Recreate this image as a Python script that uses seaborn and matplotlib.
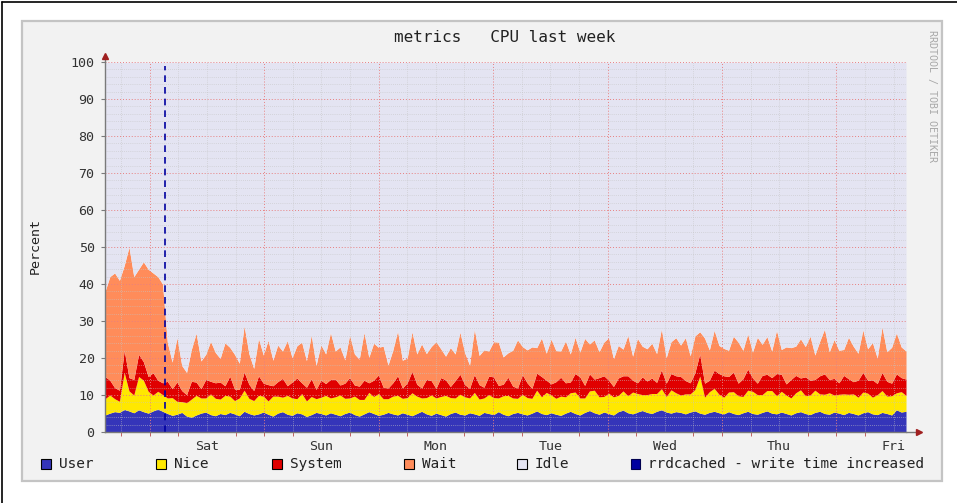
import numpy as np
import pandas as pd
import matplotlib
matplotlib.use('Agg')
import matplotlib.pyplot as plt
import seaborn as sns
from matplotlib.patches import Rectangle
from matplotlib.lines import Line2D

# time axis in hours relative to Sat 00:00
t_start = -9.4
t_end = 158.6
day_labels = ['Sat', 'Sun', 'Mon', 'Tue', 'Wed', 'Thu', 'Fri']
rule_hour = 3.2

user = [
    4.6, 5.1, 5.5, 5.3, 6.1, 5.7, 5.2, 6.0, 5.5, 5.1, 5.7, 6.2,
    5.6, 5.0, 4.5, 4.8, 5.3, 4.3, 4.0, 4.6, 5.1, 5.4, 4.7, 4.4,
    5.0, 4.7, 5.3, 4.9, 4.4, 5.6, 5.0, 4.6, 4.9, 5.4, 4.8, 4.3,
    5.1, 5.5, 4.8, 4.5, 5.2, 4.9, 4.2, 4.7, 5.3, 5.0, 4.6, 5.2,
    4.8, 4.4, 5.0, 5.4, 4.7, 4.3, 4.9, 5.5, 5.0, 4.5, 4.8, 5.3,
    4.9, 4.6, 5.2, 4.8, 4.4, 5.0, 5.6, 4.9, 4.5, 5.1, 4.7, 4.3,
    5.0, 5.4, 4.8, 4.6, 5.2, 4.9, 4.5, 5.3, 5.0, 4.7, 5.5, 4.8,
    4.4, 5.0, 5.3, 4.9, 4.6, 5.1, 5.7, 5.0, 4.7, 5.2, 4.8, 4.5,
    5.1, 5.6, 5.0, 4.6, 5.3, 5.8, 5.2, 4.8, 5.4, 5.0, 4.6, 5.5,
    5.9, 5.2, 4.9, 5.4, 5.8, 5.3, 5.0, 5.6, 6.0, 5.4, 5.1, 5.5,
    5.3, 4.9, 5.4, 5.7, 5.1, 4.8, 5.3, 5.6, 5.2, 4.9, 5.5, 5.0,
    4.7, 5.2, 5.6, 5.0, 4.8, 5.3, 5.7, 5.1, 4.9, 5.4, 5.0, 4.6,
    5.2, 5.5, 5.0, 4.7, 5.3, 5.6, 5.0, 4.8, 5.4, 5.1, 4.7, 5.3,
    5.0, 4.6, 5.2, 5.5, 4.9, 4.7, 5.3, 5.0, 4.6, 6.0, 5.4, 5.6,
]
nice = [
    4.4, 4.9, 3.5, 3.0, 10.0, 5.4, 4.8, 9.0, 8.5, 5.9, 4.3, 4.8,
    4.5, 4.2, 4.8, 3.5, 2.9, 3.6, 4.9, 5.3, 4.1, 3.8, 5.6, 4.7,
    3.9, 5.2, 4.4, 3.6, 4.8, 5.7, 4.1, 3.9, 5.0, 4.3, 3.6, 5.4,
    4.6, 3.9, 5.1, 4.7, 3.8, 5.5, 4.2, 4.9, 3.7, 4.4, 5.3, 4.0,
    4.7, 5.6, 4.1, 3.8, 5.0, 4.5, 3.9, 5.2, 4.6, 5.9, 4.2, 3.7,
    4.8, 5.3, 3.9, 4.5, 6.2, 4.7, 3.6, 4.4, 5.5, 4.1, 4.9, 5.6,
    4.3, 3.8, 5.4, 4.9, 4.0, 5.8, 4.4, 3.9, 5.1, 4.6, 3.7, 5.0,
    5.5, 4.2, 3.8, 5.3, 4.7, 4.0, 5.6, 4.5, 6.0, 4.8, 4.3, 5.2,
    4.4, 5.0, 5.8, 4.6, 3.9, 5.3, 6.1, 4.7, 4.2, 5.5, 4.9, 4.4,
    5.2, 4.6, 5.9, 5.0, 4.3, 4.8, 5.4, 4.8, 5.7, 4.2, 6.3, 5.1,
    4.7, 5.4, 4.9, 5.8, 10.0, 4.6, 5.6, 6.2, 5.0, 4.5, 5.3, 5.9,
    5.1, 4.4, 5.7, 6.0, 5.3, 4.8, 5.5, 6.1, 4.9, 5.6, 5.0, 4.6,
    5.4, 5.9, 4.8, 5.3, 6.0, 4.7, 5.2, 5.8, 4.6, 5.1, 5.6, 4.9,
    5.3, 4.8, 5.6, 5.0, 4.5, 5.4, 5.9, 4.7, 5.2, 4.6, 5.5, 4.3,
]
system = [
    6.0, 4.0, 3.0, 3.0, 6.0, 3.6, 4.2, 6.0, 5.0, 4.0, 6.0, 3.0,
    3.2, 4.5, 2.4, 5.2, 3.0, 2.2, 4.8, 3.6, 2.5, 5.0, 3.4, 4.2,
    4.6, 2.6, 5.4, 3.1, 2.3, 4.9, 3.8, 2.7, 5.3, 3.5, 4.4, 2.8,
    3.9, 5.1, 2.6, 4.3, 5.6, 2.9, 3.7, 4.8, 2.5, 4.6, 3.2, 5.0,
    4.8, 2.7, 4.1, 5.5, 3.0, 3.6, 5.2, 2.6, 4.4, 5.0, 3.1, 2.9,
    3.6, 5.3, 2.8, 4.0, 5.8, 3.2, 2.7, 4.9, 3.9, 2.6, 5.1, 4.2,
    3.0, 4.7, 5.4, 3.3, 2.6, 4.8, 3.9, 2.9, 5.0, 5.6, 3.4, 3.1,
    4.9, 3.2, 2.8, 5.3, 4.0, 2.7, 4.6, 5.5, 3.3, 3.0, 4.5, 5.1,
    3.8, 2.9, 5.0, 5.7, 3.4, 4.6, 3.0, 5.2, 5.6, 3.5, 2.8, 4.7,
    4.1, 5.4, 3.2, 2.9, 4.8, 3.7, 4.2, 3.0, 5.1, 3.6, 4.4, 4.6,
    5.0, 3.6, 3.0, 4.6, 6.0, 3.8, 3.1, 4.9, 5.6, 5.8, 4.2, 5.3,
    3.4, 4.8, 5.7, 3.6, 3.1, 5.2, 4.4, 3.5, 6.0, 4.6, 3.0, 5.0,
    4.7, 3.2, 5.1, 4.0, 2.9, 4.9, 5.5, 3.6, 4.5, 3.1, 5.0, 4.2,
    3.3, 4.6, 5.3, 3.5, 4.7, 3.0, 4.9, 4.0, 3.4, 5.1, 3.8, 4.4,
]
wait = [
    23.0, 28.0, 31.0, 29.7, 22.9, 35.3, 27.8, 23.0, 27.0, 29.0, 27.0, 28.0,
    26.7, 10.5, 7.2, 12.0, 6.8, 6.0, 8.6, 13.2, 7.5, 6.8, 10.8, 8.2,
    6.4, 11.6, 7.8, 9.4, 7.1, 12.5, 8.3, 6.0, 10.1, 7.6, 12.0, 6.9,
    9.9, 7.4, 12.2, 6.6, 8.7, 11.0, 7.2, 11.8, 6.5, 9.6, 8.0, 12.7,
    7.6, 10.3, 6.3, 11.5, 8.4, 7.3, 12.9, 6.9, 10.0, 7.5, 11.1, 6.2,
    8.8, 12.1, 7.5, 6.7, 10.7, 8.2, 11.9, 7.0, 9.2, 12.6, 7.8, 6.4,
    10.5, 7.2, 11.4, 8.6, 6.3, 12.3, 7.9, 10.1, 6.8, 9.5, 11.7, 7.4,
    6.6, 9.7, 13.0, 7.6, 8.9, 11.2, 6.9, 10.4, 7.3, 12.1, 8.4, 7.1,
    11.3, 7.6, 9.8, 6.7, 12.7, 8.1, 10.6, 7.0, 9.1, 11.5, 7.5, 8.8,
    7.2, 10.9, 6.5, 12.0, 8.3, 8.7, 9.4, 7.8, 11.1, 6.9, 8.6, 10.3,
    8.5, 11.6, 7.3, 9.9, 6.0, 12.2, 8.2, 10.8, 7.6, 7.4, 7.1, 9.7,
    11.1, 7.7, 9.5, 7.0, 12.4, 8.4, 10.2, 7.2, 11.7, 6.7, 10.0, 8.6,
    7.9, 10.6, 8.2, 11.9, 6.6, 9.3, 12.1, 7.5, 10.5, 8.8, 7.0, 11.2,
    9.6, 7.3, 11.5, 8.5, 10.1, 6.9, 12.3, 8.0, 9.7, 11.1, 8.3, 7.6,
]

series_names = ['User', 'Nice', 'System', 'Wait', 'Idle']
series_colors = ['#3535B9', '#FFE800', '#E00000', '#FF8C5A', '#E4E4F2']
rule_label = 'rrdcached - write time increased'
rule_color = '#0000A0'

df = pd.DataFrame({'User': user, 'Nice': nice, 'System': system, 'Wait': wait})
df['Idle'] = 100 - df.sum(axis=1)
df['hour'] = np.linspace(t_start, t_end, len(df))

sns.set_theme(style='white')
plt.rcParams['font.family'] = ['DejaVu Sans Mono', 'DejaVu Sans']

W, H = 957, 503
fig = plt.figure(figsize=(W / 100, H / 100), dpi=100)
fig.patch.set_facecolor('white')

# outer frame lines and grey canvas
fig.add_artist(Line2D([2 / W, 1], [1 - 2 / H, 1 - 2 / H], color='black', lw=1.2))
fig.add_artist(Line2D([2 / W, 2 / W], [0, 1 - 2 / H], color='black', lw=1.2))
fig.add_artist(Rectangle((22 / W, 22 / H), 920 / W, 460 / H, transform=fig.transFigure,
                         facecolor='#F2F2F2', edgecolor='#C4C4C4', lw=1.6, zorder=0))

ax = fig.add_axes([105 / W, 71 / H, 801 / W, 370 / H])
ax.set_facecolor('white')
ax.stackplot(df['hour'], [df[c] for c in series_names], colors=series_colors,
             linewidth=0, zorder=1)

ax.set_xlim(t_start, t_end)
ax.set_ylim(0, 100)

# grid on top of the areas, rrdtool style
for y in range(2, 101, 2):
    if y % 10:
        ax.axhline(y, color='#C4C4C4', lw=0.5, ls=(0, (1, 2)), zorder=3)
for y in range(10, 101, 10):
    ax.axhline(y, color='#E88080', lw=0.7, ls=(0, (1, 2)), zorder=3)
for h in range(-6, 159, 6):
    if h % 24:
        ax.axvline(h, color='#C4C4C4', lw=0.5, ls=(0, (1, 2)), zorder=3)
for h in range(0, 159, 24):
    ax.axvline(h, color='#E88080', lw=0.7, ls=(0, (1, 2)), zorder=3)

ax.axvline(rule_hour, ymin=0, ymax=0.99, color=rule_color, lw=1.2, ls=(0, (4, 3)), zorder=4)

# axes, ticks and arrows
sns.despine(ax=ax, top=True, right=True)
for side in ['left', 'bottom']:
    ax.spines[side].set_color('#7A7A7A')
    ax.spines[side].set_linewidth(1.0)
    ax.spines[side].set_zorder(5)
ax.plot([1.0, 1.013], [0, 0], color='#7A7A7A', lw=1.0, transform=ax.transAxes, clip_on=False)
ax.plot(1.016, 0, marker='>', color='#A02020', markersize=5, transform=ax.transAxes, clip_on=False)
ax.plot([0, 0], [1.0, 1.012], color='#7A7A7A', lw=1.0, transform=ax.transAxes, clip_on=False)
ax.plot(0, 1.017, marker='^', color='#A02020', markersize=5, transform=ax.transAxes, clip_on=False)

ax.set_yticks(range(0, 101, 10))
ax.tick_params(axis='y', which='major', length=3, width=0.8, color='#7A7A7A',
               labelsize=9.6, labelcolor='#333333', pad=4.5, left=True)
noon = [12 + 24 * i for i in range(len(day_labels))]
ax.set_xticks(noon, day_labels)
ax.tick_params(axis='x', which='major', length=0, labelsize=9.6, labelcolor='#333333', pad=6)
ax.set_xticks(list(range(-6, 159, 6)), minor=True)
ax.tick_params(axis='x', which='minor', length=3, width=0.7, color='#C06060', bottom=True)

fig.text(35 / W, 1 - 246 / H, 'Percent', rotation=90, ha='center', va='center',
         fontsize=9.6, color='#222222')
fig.text(505 / W, 1 - 38 / H, 'metrics   CPU last week', ha='center', va='center',
         fontsize=11.5, color='#222222')
fig.text(932 / W, 1 - 96 / H, 'RRDTOOL / TOBI OETIKER', rotation=270, ha='center', va='center',
         fontsize=7.2, color='#A8A8A8')

# legend row
box_x = [41, 156, 272, 404, 517]
for name, color, bx in zip(series_names, series_colors, box_x):
    fig.add_artist(Rectangle((bx / W, 1 - 469 / H), 10 / W, 10 / H, transform=fig.transFigure,
                             facecolor=color, edgecolor='black', lw=0.8))
    fig.text((bx + 18) / W, 1 - 464 / H, name, ha='left', va='center', fontsize=10.4,
             color='#222222')
fig.add_artist(Rectangle((631 / W, 1 - 469 / H), 9 / W, 10 / H, transform=fig.transFigure,
                         facecolor=rule_color, edgecolor='#000050', lw=0.8))
fig.text(648 / W, 1 - 464 / H, rule_label, ha='left', va='center', fontsize=10.4, color='#222222')

fig.savefig('out.png', dpi=100)
